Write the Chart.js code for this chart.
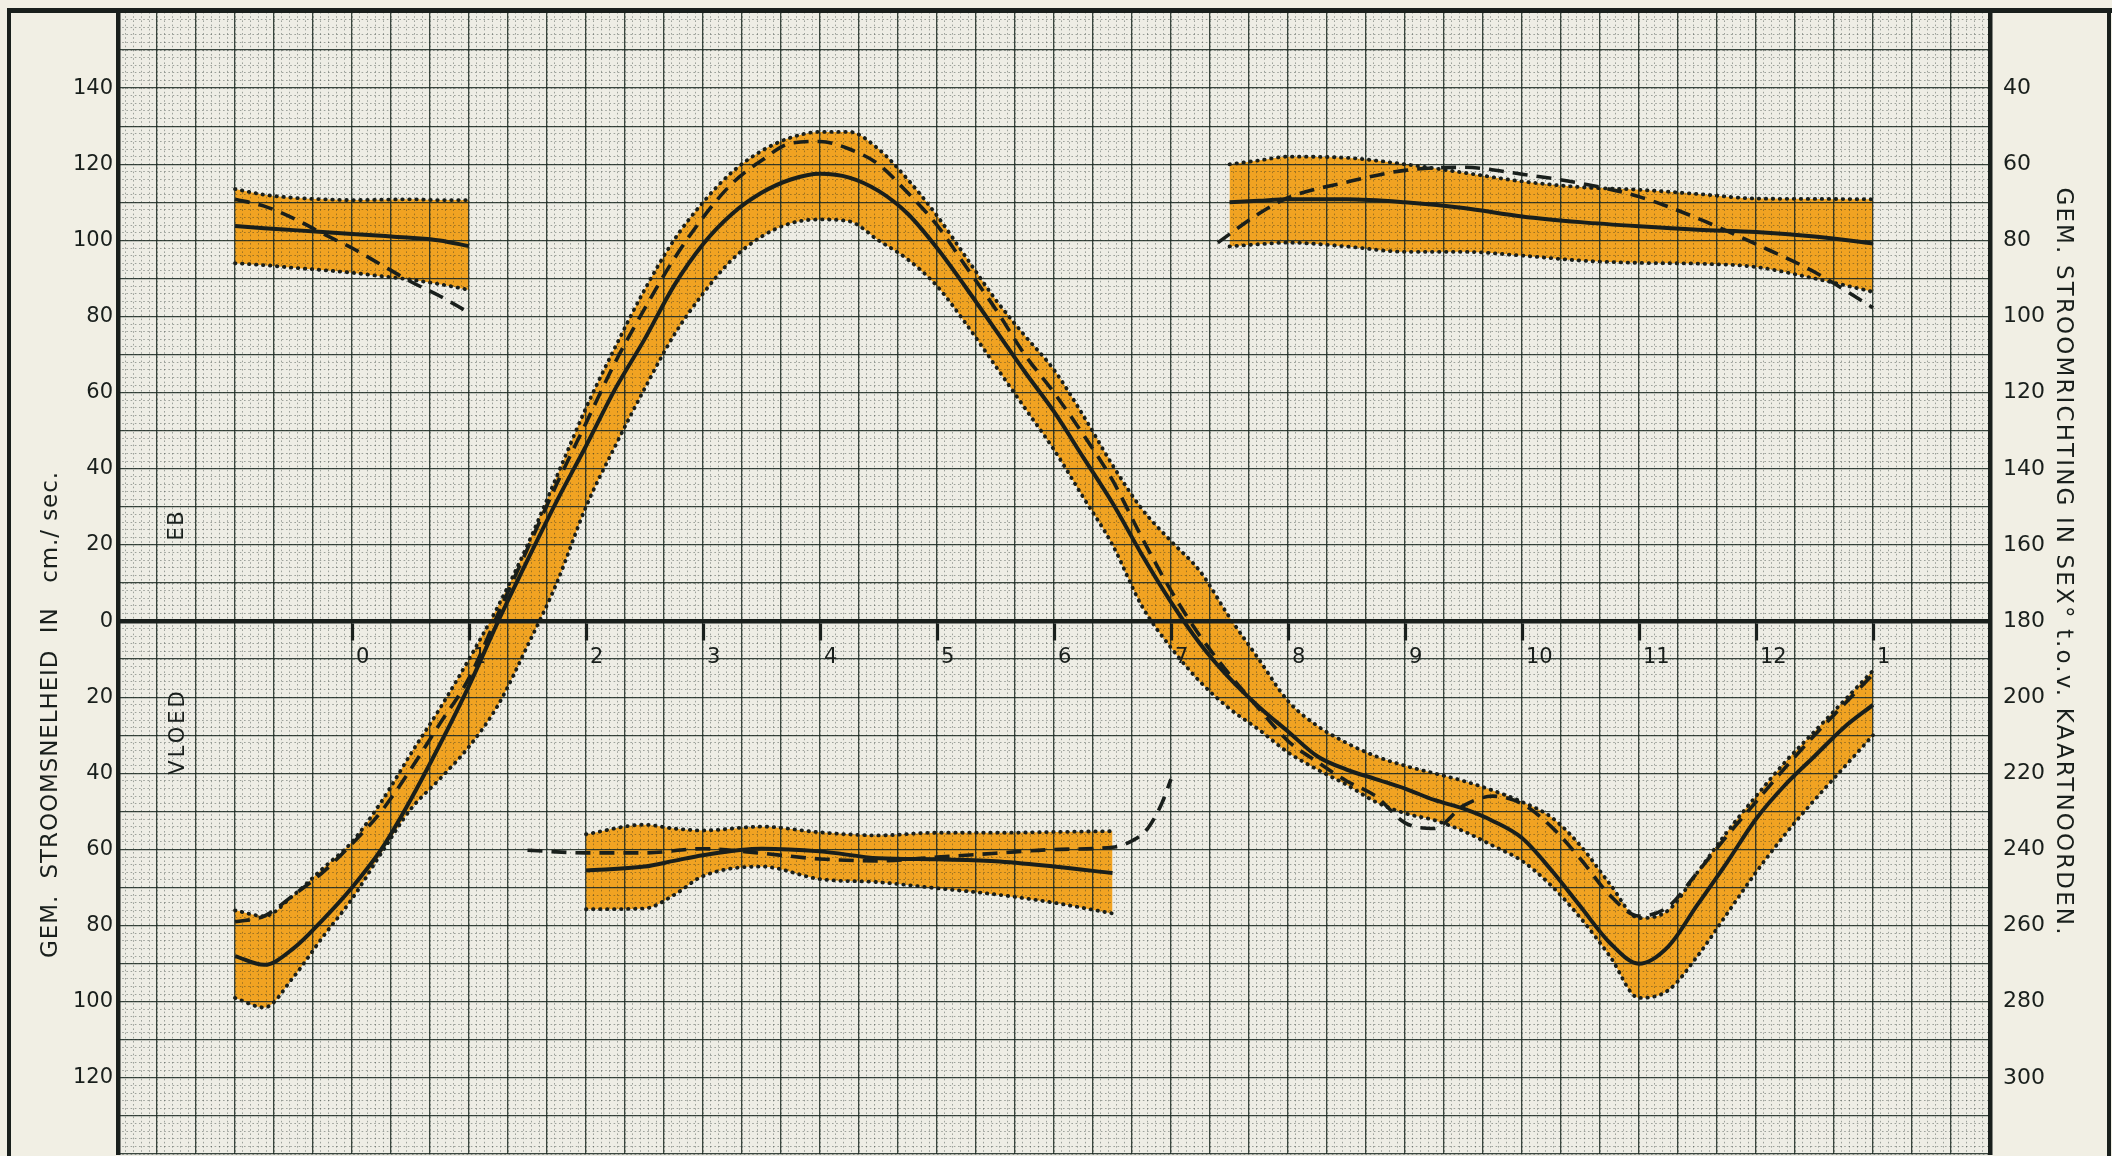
<!DOCTYPE html>
<html>
<head>
<meta charset="utf-8">
<script src="https://cdn.jsdelivr.net/npm/chart.js@4.4.1/dist/chart.umd.min.js"></script>
<style>
html,body{margin:0;padding:0;background:#eeede5;}
#wrap{width:2112px;height:1156px;position:relative;overflow:hidden;}
canvas{display:block;}
</style>
</head>
<body>
<div id="wrap"><canvas id="c" width="2112" height="1156"></canvas></div>
<script>
// ---------- tick labels ----------
const hourTicks  = [0,1,2,3,4,5,6,7,8,9,10,11,12,13];
const hourLabels = ['0','1','2','3','4','5','6','7','8','9','10','11','12','1'];
const speedTicks = [-120,-100,-80,-60,-40,-20,0,20,40,60,80,100,120,140];
const dirTicks   = [40,60,80,100,120,140,160,180,200,220,240,260,280,300];

// ---------- speed (cm/sec, EB positive, VLOED negative) ----------
const mainHours = [-1,-0.75,-0.5,-0.25,0,0.25,0.5,0.75,1,1.25,1.5,1.75,2,2.25,2.5,2.75,3,3.25,3.5,3.75,4,4.25,4.5,4.75,5,5.25,5.5,5.75,6,6.25,6.5,6.75,7,7.25,7.5,7.75,8,8.25,8.5,8.75,9,9.25,9.5,9.75,10,10.25,10.5,10.75,11,11.25,11.5,11.75,12,12.25,12.5,12.75,13];
const speedUpper = [-76,-77.5,-72,-65,-58,-47.5,-35,-23,-10,4,20,38,56,72,87,100,110,118,123.5,127,128.5,128.5,124,116,106.5,95.5,84.5,75,66,54,41,29.5,21,13,1,-10,-21,-27.5,-32,-35.5,-38,-40,-42,-44.5,-47.5,-51.5,-59,-69,-78,-76,-66,-55.5,-46,-37,-29,-21,-13];
const speedLower = [-99,-101.5,-93.5,-83,-73,-61,-49.5,-41.5,-33,-22,-6.5,10,30,46,61,75,86,95,101,104.5,105.5,105,100,95,88,78,67,56,45,32.5,20,4,-7,-16,-23,-28.5,-34.5,-39,-43,-47.5,-50.5,-52.3,-55.2,-59,-63,-69.5,-78,-88,-99,-97,-88,-77,-66,-56,-47,-38.5,-30];
const speedMean  = [-88,-90.3,-86,-78.5,-70,-60,-47,-32.5,-17,0,16,31.5,46,61,74,88,99,107,112.5,116,117.5,116.5,113,107,98,87.5,76.5,65.5,55,43,31,17.5,5,-6,-15,-22.5,-29,-35.5,-39,-41.5,-44,-47,-49.3,-52.5,-57,-65.4,-75,-84.5,-90,-85.5,-74.5,-63.5,-52,-43,-35.5,-28,-22];
const speedDashed= [-79,-77.5,-72,-66,-58.5,-50,-39,-27,-15,2,19,36,52,68,82,95,106,115,121,125.5,126,124,120,112.5,104,93,82,70,60,49,37,22,8,-4,-14,-23,-31.5,-37,-42,-46,-53,-54.5,-48.5,-46,-48,-54,-62.5,-72,-77.5,-75,-66,-56.5,-47.5,-38.5,-30,-22,-14];

// ---------- direction (sex. degrees, right axis) ----------
const ebb1Hours  = [-1,-0.75,-0.5,-0.25,0,0.25,0.5,0.75,1];
const ebb1Upper  = [66.5,68,68.8,69.2,69.4,69.3,69.2,69.4,69.4];
const ebb1Lower  = [86,86.5,87.2,87.8,88.5,89.4,90.3,91.5,93];
const ebb1Mean   = [76.2,76.8,77.3,77.8,78.3,78.8,79.3,80,81.5];
const ebb1Dashed = [69.2,71,74.2,78.2,82,86.4,90.8,94.6,99];

const floodHours  = [2,2.5,2.75,3,3.5,4,4.5,5,5.5,6,6.5];
const floodUpper  = [236,233.5,234.5,235,234,235.5,236.3,235.6,235.6,235.4,235.2];
const floodLower  = [255.7,255.5,252,247,244.5,247.8,248.6,250.2,251.8,254,256.8];
const floodMean   = [245.5,244.5,243,241.5,239.8,240.5,242.3,242.6,243.1,244.5,246.2];
const floodDashedHours = [1.5,2,2.5,3,3.5,4,4.5,5,5.5,6,6.5,6.65,6.8,6.92,7.0];
const floodDashed = [240.2,240.9,240.9,239.8,241,242.5,243,242,241,240,239.4,238,234.5,228,221.5];

const ebb2Hours  = [7.5,7.75,8,8.5,9,9.5,10,10.5,11,11.5,12,12.5,13];
const ebb2Upper  = [60,59,58,58.3,60,62.2,64.5,66,66.7,67.8,69,69.1,69.2];
const ebb2Lower  = [81.6,81,80.6,81.6,83,83,84,85.3,85.9,86.1,87,90,93.5];
const ebb2Mean   = [70,69.6,69.2,69.2,70,71.5,73.7,75.2,76.3,77.2,77.8,79,80.8];
const ebb2DashedHours = [7.4,7.75,8,8.5,9,9.5,10,10.5,11,11.5,12,12.5,13];
const ebb2Dashed = [80.6,73,68.8,64.7,61.6,60.8,62.6,65,68.5,74.2,81,88.3,97.7];

// ---------- styling ----------
const INK = '#191f1c';
const ORANGE = '#f1a322';
const PAPER = '#f1efe4';
const GRID = 'rgba(26,40,33,0.85)';
const GRID_MINOR = 'rgba(26,40,33,0.38)';
const FONT = 'DejaVu Sans';

function pts(xs, ys){ return xs.map((x,i)=>({x:x, y:ys[i]})); }
function range(a, b, n){ const out=[]; for(let k=0;k<=n;k++) out.push({value: a + (b-a)*k/n}); return out; }

function dottedSet(data, axis, fill){
  return {data, yAxisID: axis, borderColor: INK, borderWidth: 3.8, borderDash:[0.5,6.5],
    borderCapStyle:'round', fill: fill ? '+1' : false, backgroundColor: ORANGE, order: 2};
}
function dashedSet(data, axis){
  return {data, yAxisID: axis, borderColor: INK, borderWidth: 3.6, borderDash:[15,9], fill:false, order: 1};
}
function solidSet(data, axis){
  return {data, yAxisID: axis, borderColor: INK, borderWidth: 4, fill:false, order: 0};
}

const datasets = [
  dottedSet(pts(mainHours, speedUpper), 'y', true),
  dottedSet(pts(mainHours, speedLower), 'y', false),
  dashedSet(pts(mainHours, speedDashed), 'y'),
  solidSet(pts(mainHours, speedMean), 'y'),

  dottedSet(pts(ebb1Hours, ebb1Upper), 'y2', true),
  dottedSet(pts(ebb1Hours, ebb1Lower), 'y2', false),
  dashedSet(pts(ebb1Hours, ebb1Dashed), 'y2'),
  solidSet(pts(ebb1Hours, ebb1Mean), 'y2'),

  dottedSet(pts(floodHours, floodUpper), 'y2', true),
  dottedSet(pts(floodHours, floodLower), 'y2', false),
  dashedSet(pts(floodDashedHours, floodDashed), 'y2'),
  solidSet(pts(floodHours, floodMean), 'y2'),

  dottedSet(pts(ebb2Hours, ebb2Upper), 'y2', true),
  dottedSet(pts(ebb2Hours, ebb2Lower), 'y2', false),
  dashedSet(pts(ebb2DashedHours, ebb2Dashed), 'y2'),
  solidSet(pts(ebb2Hours, ebb2Mean), 'y2')
];

function zeroPad(s){ s.paddingTop = 0; s.paddingBottom = 0; s.paddingLeft = 0; s.paddingRight = 0; }

function drawText(ctx, text, cx, cy, angle, font, targetLen, spacing){
  ctx.save();
  ctx.font = font;
  ctx.letterSpacing = '0px';
  const n = [...text].length;
  let ls = spacing || 0;
  if (targetLen) { const w = ctx.measureText(text).width; ls = (targetLen - w) / (n - 1); }
  ctx.letterSpacing = ls + 'px';
  ctx.translate(cx, cy);
  ctx.rotate(angle);
  ctx.textAlign = 'center';
  ctx.textBaseline = 'middle';
  ctx.fillStyle = INK;
  ctx.fillText(text, ls / 2, 0);
  ctx.restore();
}

const paperPlugin = {
  id: 'paper',
  beforeDraw(chart){
    const {ctx, chartArea: a, width, height} = chart;
    ctx.save();
    ctx.fillStyle = PAPER;
    ctx.fillRect(0, 0, a.left, height);
    ctx.fillRect(a.right, 0, width - a.right, height);
    ctx.fillRect(0, 0, width, a.top);
    ctx.restore();
  },
  afterDraw(chart){
    const {ctx, chartArea: a, width, height} = chart;
    ctx.save();
    ctx.strokeStyle = INK;
    ctx.lineWidth = 5;
    ctx.beginPath();
    ctx.moveTo(7, a.top - 1.5); ctx.lineTo(width, a.top - 1.5);
    ctx.stroke();
    ctx.lineWidth = 4;
    ctx.beginPath();
    ctx.moveTo(9, a.top - 3); ctx.lineTo(9, height);
    ctx.moveTo(2109, a.top - 3); ctx.lineTo(2109, height);
    ctx.stroke();
    ctx.restore();
    drawText(ctx, 'GEM.  STROOMSNELHEID  IN   cm./ sec.', 51, 715, -Math.PI/2, '23px "' + FONT + '"', 486);
    drawText(ctx, 'GEM. STROOMRICHTING IN SEX\u00B0 t.o.v. KAARTNOORDEN.', 2063, 561, Math.PI/2, '23px "' + FONT + '"', 747);
    drawText(ctx, 'EB', 178, 526, -Math.PI/2, '21px "' + FONT + '"', 0, 1.5);
    drawText(ctx, 'VLOED', 179, 733, -Math.PI/2, '21px "' + FONT + '"', 0, 3);
  }
};

Chart.defaults.font.family = FONT;

new Chart(document.getElementById('c'), {
  type: 'line',
  data: { datasets },
  plugins: [paperPlugin],
  options: {
    responsive: false,
    animation: false,
    devicePixelRatio: 1,
    parsing: true,
    layout: { padding: { top: 12, bottom: 2, left: 0, right: 0 } },
    elements: { point: { radius: 0, hoverRadius: 0 }, line: { cubicInterpolationMode: 'monotone' } },
    plugins: {
      legend: { display: false },
      tooltip: { enabled: false },
      filler: { drawTime: 'beforeDraw', propagate: false }
    },
    scales: {
      x: {
        type: 'linear', min: -2, max: 14, position: 'bottom',
        afterBuildTicks: s => { s.ticks = range(-2, 14, 48); },
        ticks: { display: false },
        grid: { color: GRID, lineWidth: 1.3, drawTicks: false },
        border: { display: false },
        afterFit: s => { s.height = 0; zeroPad(s); }
      },
      xMinor: {
        type: 'linear', min: -2, max: 14, position: 'bottom',
        afterBuildTicks: s => { s.ticks = range(-2, 14, 240); },
        ticks: { display: false },
        grid: { color: GRID_MINOR, lineWidth: 1, drawTicks: false },
        border: { display: false, dash: [1.6, 2.6] },
        afterFit: s => { s.height = 0; zeroPad(s); }
      },
      x2: {
        type: 'linear', min: -2, max: 14, position: { y: 0 },
        afterBuildTicks: s => { s.ticks = hourTicks.map(v => ({value: v})); },
        ticks: {
          callback: v => hourLabels[hourTicks.indexOf(v)],
          align: 'start', labelOffset: 4, padding: 7, autoSkip: false, maxRotation: 0,
          color: INK, font: { size: 21, family: FONT }
        },
        grid: { drawOnChartArea: false, drawTicks: true, tickLength: 17, tickWidth: 3.2, tickColor: INK },
        border: { display: true, width: 4.5, color: INK },
        afterFit: s => { zeroPad(s); }
      },
      y: {
        type: 'linear', min: -140, max: 160, position: 'left',
        afterBuildTicks: s => { s.ticks = speedTicks.map(v => ({value: v})); },
        ticks: { callback: v => String(Math.abs(v)), padding: 5, color: INK, font: { size: 21, family: FONT } },
        grid: { display: false, drawTicks: false },
        border: { display: true, width: 4.5, color: INK },
        afterFit: s => { s.width = 118; zeroPad(s); }
      },
      yGrid: {
        type: 'linear', min: -140, max: 160, position: 'left',
        afterBuildTicks: s => { s.ticks = range(-140, 160, 30); },
        ticks: { display: false },
        grid: { color: GRID, lineWidth: 1.3, drawTicks: false },
        border: { display: false },
        afterFit: s => { s.width = 0; zeroPad(s); }
      },
      yMinor: {
        type: 'linear', min: -140, max: 160, position: 'left',
        afterBuildTicks: s => { s.ticks = range(-140, 160, 150); },
        ticks: { display: false },
        grid: { color: GRID_MINOR, lineWidth: 1, drawTicks: false },
        border: { display: false, dash: [1.6, 2.6] },
        afterFit: s => { s.width = 0; zeroPad(s); }
      },
      y2: {
        type: 'linear', min: 20, max: 320, reverse: true, position: 'right',
        afterBuildTicks: s => { s.ticks = dirTicks.map(v => ({value: v})); },
        ticks: { padding: 13, color: INK, font: { size: 22, family: FONT } },
        grid: { display: false, drawTicks: false },
        border: { display: true, width: 4.5, color: INK },
        afterFit: s => { s.width = 122; zeroPad(s); }
      }
    }
  }
});
</script>
</body>
</html>
